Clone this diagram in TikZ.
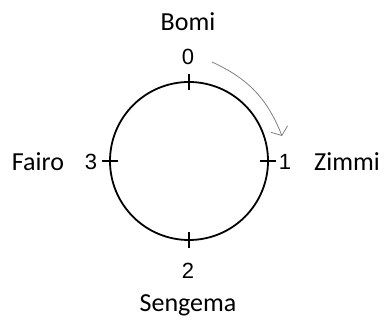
\documentclass[tikz,border=0pt]{standalone}
\usepackage{fontspec}
\setmainfont{Liberation Sans}
\newfontfamily\namefont{Carlito}
\usetikzlibrary{arrows.meta}
\begin{document}
\begin{tikzpicture}[x=1pt,y=1pt]
  \useasboundingbox (-189,-162) rectangle (198,161);
  \coordinate (O) at (0,0);
  \coordinate (N) at (0,79);
  \coordinate (E) at (79,0);
  \coordinate (S) at (0,-79);
  \coordinate (W) at (-79,0);

  % Circle
  \draw[line width=1.8pt] (O) circle (79);

  % Ticks
  \draw[line width=1.1pt] ([yshift=-8]N) -- ([yshift=8]N);
  \draw[line width=1.1pt] ([xshift=-8]E) -- ([xshift=8]E);
  \draw[line width=1.1pt] ([yshift=-8]S) -- ([yshift=8]S);
  \draw[line width=1.1pt] ([xshift=-8]W) -- ([xshift=8]W);

  % Numbers
  \node[font=\fontsize{22}{26}\selectfont] (n0) at (-1,104) {0};
  \node[font=\fontsize{22}{26}\selectfont] (n1) at (96,-1) {1};
  \node[font=\fontsize{22}{26}\selectfont] (n2) at (-1,-110) {2};
  \node[font=\fontsize{22}{26}\selectfont] (n3) at (-98,-1) {3};

  % Names
  \node[font=\namefont\fontsize{26}{30}\selectfont] (bomi) at (-1,139) {Bomi};
  \node[font=\namefont\fontsize{26}{30}\selectfont] (zimmi) at (158,-1) {Zimmi};
  \node[font=\namefont\fontsize{26}{30}\selectfont] (sengema) at (-1,-144) {Sengema};
  \node[font=\namefont\fontsize{26}{30}\selectfont] (fairo) at (-151,-1) {Fairo};

  % Direction
  \coordinate (A) at (23,99);
  \coordinate (B) at (93,25);
  \draw[-{Straight Barb[length=7pt,width=18pt]}, gray, line width=0.8pt] (A) to[bend left=22] (B);
\end{tikzpicture}
\end{document}
